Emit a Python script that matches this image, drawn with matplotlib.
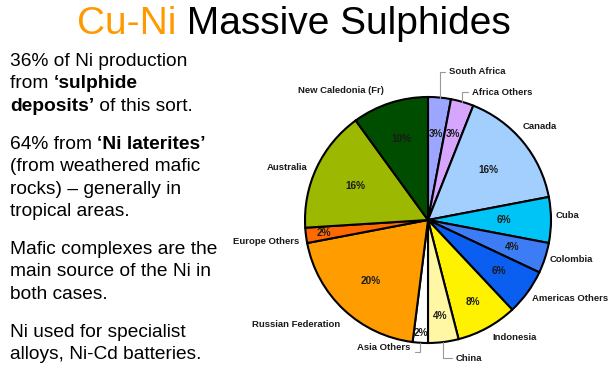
import numpy as np
import matplotlib
matplotlib.use("Agg")
from matplotlib import pyplot as plt
from matplotlib.transforms import Affine2D

plt.rcParams['font.family'] = ['Liberation Sans', 'DejaVu Sans']

# pie data, clockwise from 12 o'clock
countries = ['South Africa', 'Africa Others', 'Canada', 'Cuba', 'Colombia',
             'Americas Others', 'Indonesia', 'China', 'Asia Others',
             'Russian Federation', 'Europe Others', 'Australia',
             'New Caledonia (Fr)']
shares = [3, 3, 16, 6, 4, 6, 8, 4, 2, 20, 2, 16, 10]
colors = ['#9DA6FF', '#D6A6FF', '#A3CFFF', '#00C4F5', '#3C7CF5', '#0A5FF0',
          '#FFF200', '#FFF7A3', '#FFFFFF', '#FF9D00', '#FF6A00', '#9DB800',
          '#004D00']

# where the % labels sit (fraction of radius)
pct_radius = [0.70, 0.73, 0.64, 0.62, 0.72, 0.71, 0.76, 0.79, 0.92, 0.68, 0.85, 0.65, 0.69]
# outer name labels: radius and small angle nudge (deg, clockwise)
name_radius = [None, None, 1.08, 1.04, 1.04, 1.06, 1.09, None, None, 1.11, 1.06, 1.07, 1.11]
name_nudge = [0, 0, -5, -2, 0, 1, 0, 0, 0, -3, -2.5, -1.5, -1]
# labels with leader lines: text offset from wedge edge (data units), attach point on text
leaders = {
    'South Africa': (0.08, 0.21, (0, 0.5), 'left'),
    'Africa Others': (0.08, 0.08, (0, 0.5), 'left'),
    'China': (0.10, -0.13, (0, 0.5), 'left'),
    'Asia Others': (-0.08, -0.035, (1, 0), 'right'),
}

title_runs = [('Cu-Ni', '#FF9900'), (' Massive Sulphides', 'black')]
paragraphs = [
    [[('36% of Ni production', False)],
     [('from ', False), ('\u2018sulphide', True)],
     [('deposits\u2019', True), (' of this sort.', False)]],
    [[('64% from ', False), ('\u2018Ni laterites\u2019', True)],
     [('(from weathered mafic', False)],
     [('rocks) \u2013 generally in', False)],
     [('tropical areas.', False)]],
    [[('Mafic complexes are the', False)],
     [('main source of the Ni in', False)],
     [('both cases.', False)]],
    [[('Ni used for specialist', False)],
     [('alloys, Ni-Cd batteries.', False)]],
]

W, H = 615, 370
fig = plt.figure(figsize=(W / 100, H / 100), dpi=100)
px = Affine2D().scale(1 / W, -1 / H).translate(0, 1) + fig.transFigure
renderer = fig.canvas.get_renderer()


def advance(s, **kw):
    # width incl. leading/trailing spaces
    a = fig.text(0, 0, '|' + s + '|', **kw)
    b = fig.text(0, 0, '||', **kw)
    w = a.get_window_extent(renderer).width - b.get_window_extent(renderer).width
    a.remove()
    b.remove()
    return w


# title
x = 77
for s, c in title_runs:
    fig.text(x, 34, s, transform=px, fontsize=28, color=c, va='baseline')
    x += advance(s, fontsize=28)

# bullet text on the left
y = 66
for para in paragraphs:
    for line in para:
        x = 10
        for s, bold in line:
            w = 'bold' if bold else 'normal'
            fig.text(x, y, s, transform=px, fontsize=13.8, fontweight=w, va='baseline')
            x += advance(s, fontsize=13.8, fontweight=w)
        y += 22.5
    y += 15.2

# pie
cx, cy, R = 428, 220, 123
ax = fig.add_axes([(cx - R) / W, (H - cy - R) / H, 2 * R / W, 2 * R / H])
wedges, _ = ax.pie(shares, colors=colors, startangle=90, counterclock=False,
                   wedgeprops=dict(edgecolor='black', linewidth=1.5))
ax.set_xlim(-1, 1)
ax.set_ylim(-1, 1)
ax.axis('off')

lab_kw = dict(fontsize=6.8, fontweight='bold', color='#1a1a1a')
for i, wdg in enumerate(wedges):
    mid = np.deg2rad((wdg.theta1 + wdg.theta2) / 2)
    r = pct_radius[i]
    ax.text(r * np.cos(mid), r * np.sin(mid), f'{shares[i]}%',
            ha='center', va='center', fontsize=7.2, fontweight='bold', color='#1a1a1a')

    name = countries[i]
    if name in leaders:
        dx, dy, rel, ha = leaders[name]
        ex, ey = np.cos(mid), np.sin(mid)
        ax.annotate(name, xy=(ex, ey), xytext=(ex + dx, ey + dy), ha=ha, va='center',
                    arrowprops=dict(arrowstyle='-', color='#999999', lw=0.8,
                                    connectionstyle='angle,angleA=0,angleB=90,rad=0',
                                    relpos=rel, shrinkA=1, shrinkB=0),
                    **lab_kw)
    else:
        a = mid - np.deg2rad(name_nudge[i])
        r = name_radius[i]
        xx, yy = r * np.cos(a), r * np.sin(a)
        ax.text(xx, yy, name, ha='left' if xx > 0 else 'right', va='center', **lab_kw)

fig.savefig('out.png', dpi=100)
